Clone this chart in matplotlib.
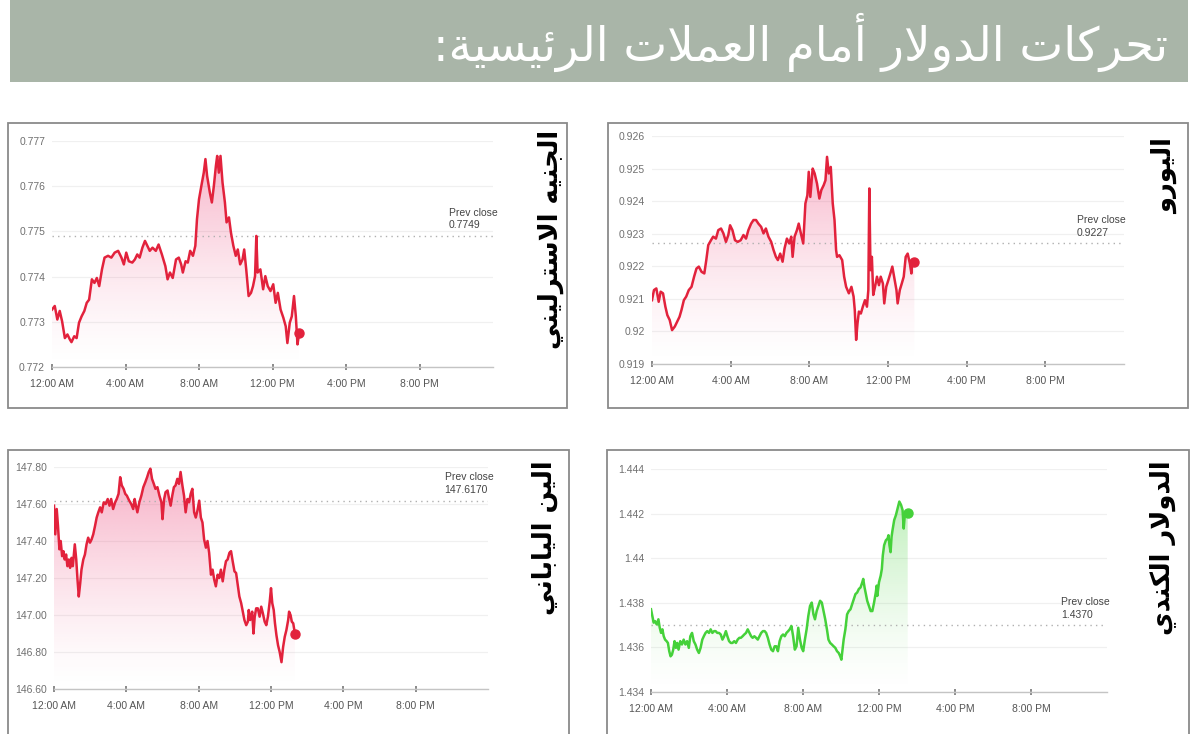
import matplotlib
matplotlib.use('Agg')
import matplotlib.pyplot as plt
import matplotlib.colors as mcolors
import numpy as np
from matplotlib.patches import Rectangle, Polygon

# ---- data (hours after midnight, exchange rate) ----
title_text = 'تحركات الدولار أمام العملات الرئيسية:'
time_ticks = [0, 4, 8, 12, 16, 20]
time_labels = ['12:00 AM', '4:00 AM', '8:00 AM', '12:00 PM', '4:00 PM', '8:00 PM']

gbp_name = 'الجنيه الاسترليني'
gbp_prev = 0.7749
gbp_prev_label = '0.7749'
gbp_ticks = [0.772, 0.773, 0.774, 0.775, 0.776, 0.777]
gbp_tick_labels = ['0.772', '0.773', '0.774', '0.775', '0.776', '0.777']
gbp_hours = [0.00, 0.15, 0.29, 0.42, 0.55, 0.70, 0.84, 0.97, 1.06, 1.21,
             1.34, 1.47, 1.61, 1.76, 1.89, 2.02, 2.17, 2.31, 2.44, 2.57,
             2.72, 2.86, 3.05, 3.23, 3.41, 3.60, 3.78, 3.91, 4.04, 4.18,
             4.37, 4.51, 4.64, 4.77, 4.92, 5.06, 5.19, 5.32, 5.47, 5.65,
             5.80, 5.98, 6.17, 6.29, 6.42, 6.57, 6.75, 6.90, 7.03, 7.12,
             7.27, 7.39, 7.52, 7.67, 7.80, 7.89, 8.00, 8.13, 8.26, 8.35,
             8.44, 8.59, 8.70, 8.81, 8.92, 8.99, 9.08, 9.17, 9.28, 9.41,
             9.50, 9.63, 9.74, 9.87, 10.00, 10.11, 10.24, 10.37, 10.46, 10.57,
             10.70, 10.83, 10.94, 11.05, 11.12, 11.19, 11.34, 11.49, 11.61, 11.74,
             11.89, 12.04, 12.17, 12.29, 12.44, 12.59, 12.72, 12.81, 12.94, 13.05,
             13.17, 13.27, 13.36, 13.45]
gbp_rate = [0.77327, 0.77335, 0.77305, 0.77324, 0.77301, 0.77264, 0.77272, 0.77261, 0.77255, 0.77268,
            0.77264, 0.77298, 0.77312, 0.77324, 0.77342, 0.77349, 0.77394, 0.77386, 0.77397, 0.77379,
            0.77416, 0.77442, 0.77446, 0.77442, 0.77453, 0.77457, 0.77442, 0.77427, 0.77453, 0.77434,
            0.77431, 0.77438, 0.77449, 0.77442, 0.77464, 0.77479, 0.77468, 0.77457, 0.77464, 0.77457,
            0.77471, 0.77449, 0.77423, 0.77394, 0.77409, 0.77397, 0.77438, 0.77442, 0.77427, 0.77409,
            0.77434, 0.77431, 0.77457, 0.77446, 0.77468, 0.77527, 0.77571, 0.77601, 0.77630, 0.77660,
            0.77623, 0.77586, 0.77564, 0.77601, 0.77645, 0.77667, 0.77630, 0.77667, 0.77608, 0.77564,
            0.77520, 0.77531, 0.77497, 0.77468, 0.77446, 0.77460, 0.77427, 0.77438, 0.77460, 0.77416,
            0.77357, 0.77364, 0.77379, 0.77401, 0.77490, 0.77409, 0.77416, 0.77372, 0.77401, 0.77379,
            0.77368, 0.77383, 0.77342, 0.77364, 0.77327, 0.77309, 0.77290, 0.77253, 0.77298, 0.77312,
            0.77357, 0.77312, 0.77250, 0.77275]

eur_name = 'اليورو'
eur_prev = 0.9227
eur_prev_label = '0.9227'
eur_ticks = [0.919, 0.920, 0.921, 0.922, 0.923, 0.924, 0.925, 0.926]
eur_tick_labels = ['0.919', '0.92', '0.921', '0.922', '0.923', '0.924', '0.925', '0.926']
eur_hours = [0.00, 0.10, 0.22, 0.34, 0.44, 0.56, 0.68, 0.78, 0.90, 1.02,
             1.16, 1.28, 1.40, 1.50, 1.62, 1.74, 1.87, 2.01, 2.14, 2.26,
             2.38, 2.52, 2.66, 2.76, 2.86, 3.00, 3.11, 3.25, 3.37, 3.51,
             3.63, 3.76, 3.88, 3.97, 4.09, 4.22, 4.36, 4.51, 4.65, 4.78,
             4.90, 5.04, 5.16, 5.29, 5.41, 5.55, 5.67, 5.79, 5.92, 6.06,
             6.18, 6.30, 6.40, 6.52, 6.64, 6.74, 6.86, 6.98, 7.08, 7.15,
             7.25, 7.37, 7.46, 7.57, 7.69, 7.80, 7.90, 7.97, 8.05, 8.17,
             8.27, 8.39, 8.51, 8.61, 8.73, 8.82, 8.90, 8.99, 9.09, 9.19,
             9.28, 9.36, 9.41, 9.53, 9.67, 9.77, 9.87, 10.01, 10.14, 10.25,
             10.31, 10.38, 10.45, 10.52, 10.62, 10.72, 10.83, 10.93, 11.00, 11.05,
             11.11, 11.18, 11.25, 11.34, 11.44, 11.54, 11.63, 11.74, 11.81, 11.91,
             12.02, 12.12, 12.22, 12.31, 12.43, 12.49, 12.60, 12.70, 12.80, 12.90,
             13.00, 13.11, 13.19, 13.24, 13.34]
eur_rate = [0.92096, 0.92127, 0.92132, 0.92091, 0.92122, 0.92117, 0.92076, 0.92050, 0.92035, 0.92004,
            0.92015, 0.92030, 0.92045, 0.92066, 0.92096, 0.92107, 0.92127, 0.92137, 0.92168, 0.92193,
            0.92199, 0.92183, 0.92178, 0.92219, 0.92265, 0.92280, 0.92291, 0.92285, 0.92311, 0.92316,
            0.92301, 0.92275, 0.92296, 0.92326, 0.92311, 0.92280, 0.92275, 0.92280, 0.92296, 0.92285,
            0.92311, 0.92331, 0.92342, 0.92342, 0.92331, 0.92321, 0.92301, 0.92316, 0.92291, 0.92275,
            0.92250, 0.92229, 0.92219, 0.92239, 0.92214, 0.92255, 0.92285, 0.92270, 0.92291, 0.92229,
            0.92291, 0.92311, 0.92331, 0.92301, 0.92270, 0.92393, 0.92418, 0.92490, 0.92413, 0.92500,
            0.92485, 0.92454, 0.92408, 0.92434, 0.92449, 0.92464, 0.92536, 0.92485, 0.92505, 0.92393,
            0.92342, 0.92250, 0.92229, 0.92234, 0.92219, 0.92168, 0.92137, 0.92117, 0.92137, 0.92107,
            0.92066, 0.91974, 0.92025, 0.92061, 0.92055, 0.92076, 0.92096, 0.92076, 0.92127, 0.92439,
            0.92188, 0.92229, 0.92112, 0.92137, 0.92168, 0.92142, 0.92168, 0.92147, 0.92086, 0.92137,
            0.92158, 0.92178, 0.92199, 0.92168, 0.92127, 0.92086, 0.92127, 0.92147, 0.92168, 0.92229,
            0.92239, 0.92209, 0.92178, 0.92219, 0.92214]

jpy_name = 'الين الياباني'
jpy_prev = 147.617
jpy_prev_label = '147.6170'
jpy_ticks = [146.6, 146.8, 147.0, 147.2, 147.4, 147.6, 147.8]
jpy_tick_labels = ['146.60', '146.80', '147.00', '147.20', '147.40', '147.60', '147.80']
jpy_hours = [0.00, 0.07, 0.15, 0.22, 0.30, 0.37, 0.45, 0.52, 0.59, 0.67,
             0.74, 0.82, 0.89, 0.97, 1.04, 1.15, 1.23, 1.30, 1.37, 1.45,
             1.52, 1.62, 1.71, 1.80, 1.89, 1.99, 2.08, 2.17, 2.27, 2.36,
             2.45, 2.55, 2.64, 2.75, 2.86, 2.97, 3.07, 3.16, 3.27, 3.38,
             3.47, 3.57, 3.66, 3.75, 3.85, 3.94, 4.03, 4.16, 4.27, 4.38,
             4.46, 4.53, 4.61, 4.72, 4.83, 4.94, 5.05, 5.15, 5.24, 5.33,
             5.42, 5.52, 5.61, 5.72, 5.83, 5.94, 6.00, 6.09, 6.17, 6.28,
             6.35, 6.45, 6.54, 6.63, 6.72, 6.82, 6.91, 7.00, 7.10, 7.19,
             7.28, 7.38, 7.47, 7.56, 7.65, 7.75, 7.84, 7.93, 8.03, 8.12,
             8.21, 8.30, 8.40, 8.49, 8.58, 8.68, 8.77, 8.86, 8.95, 9.05,
             9.14, 9.23, 9.33, 9.42, 9.51, 9.60, 9.70, 9.79, 9.88, 9.98,
             10.07, 10.16, 10.25, 10.35, 10.44, 10.53, 10.63, 10.72, 10.77, 10.85,
             10.96, 11.03, 11.10, 11.18, 11.27, 11.37, 11.46, 11.55, 11.65, 11.74,
             11.83, 11.93, 12.00, 12.07, 12.15, 12.22, 12.30, 12.39, 12.48, 12.58,
             12.67, 12.76, 12.85, 12.95, 13.00, 13.08, 13.15, 13.23, 13.32]
jpy_rate = [147.591, 147.436, 147.573, 147.482, 147.355, 147.400, 147.318, 147.345, 147.300, 147.327,
            147.264, 147.300, 147.255, 147.309, 147.264, 147.382, 147.300, 147.191, 147.100, 147.173,
            147.245, 147.300, 147.327, 147.382, 147.418, 147.391, 147.409, 147.436, 147.482, 147.527,
            147.555, 147.582, 147.555, 147.609, 147.600, 147.627, 147.591, 147.627, 147.573, 147.609,
            147.627, 147.655, 147.745, 147.700, 147.682, 147.655, 147.645, 147.618, 147.600, 147.573,
            147.627, 147.591, 147.555, 147.609, 147.645, 147.691, 147.718, 147.745, 147.773, 147.791,
            147.736, 147.709, 147.682, 147.691, 147.645, 147.609, 147.518, 147.627, 147.664, 147.673,
            147.636, 147.591, 147.645, 147.691, 147.700, 147.736, 147.709, 147.773, 147.700, 147.645,
            147.555, 147.627, 147.609, 147.655, 147.682, 147.555, 147.527, 147.564, 147.618, 147.527,
            147.500, 147.409, 147.364, 147.400, 147.336, 147.218, 147.245, 147.191, 147.155, 147.218,
            147.200, 147.245, 147.182, 147.245, 147.291, 147.300, 147.336, 147.345, 147.291, 147.236,
            147.227, 147.164, 147.100, 147.064, 147.018, 146.973, 146.945, 146.964, 147.027, 146.973,
            147.018, 146.900, 146.991, 147.036, 147.036, 146.991, 147.045, 147.009, 146.964, 146.945,
            146.991, 147.073, 147.145, 147.064, 147.027, 146.955, 146.891, 146.836, 146.800, 146.745,
            146.827, 146.882, 146.918, 146.973, 147.018, 147.000, 146.964, 146.955, 146.900]

cad_name = 'الدولار الكندي'
cad_prev = 1.4370
cad_prev_label = '1.4370'
cad_ticks = [1.434, 1.436, 1.438, 1.440, 1.442, 1.444]
cad_tick_labels = ['1.434', '1.436', '1.438', '1.44', '1.442', '1.444']
cad_hours = [0.00, 0.07, 0.14, 0.21, 0.30, 0.39, 0.46, 0.53, 0.60, 0.67,
             0.74, 0.82, 0.89, 0.96, 1.03, 1.10, 1.17, 1.24, 1.31, 1.38,
             1.45, 1.54, 1.63, 1.72, 1.81, 1.90, 1.99, 2.07, 2.16, 2.25,
             2.34, 2.43, 2.52, 2.61, 2.70, 2.78, 2.87, 2.96, 3.05, 3.14,
             3.23, 3.32, 3.40, 3.49, 3.58, 3.67, 3.76, 3.85, 3.94, 4.02,
             4.11, 4.20, 4.29, 4.38, 4.47, 4.56, 4.65, 4.73, 4.82, 4.91,
             5.00, 5.09, 5.18, 5.27, 5.35, 5.44, 5.53, 5.62, 5.71, 5.80,
             5.89, 5.98, 6.06, 6.15, 6.24, 6.33, 6.42, 6.51, 6.60, 6.68,
             6.77, 6.86, 6.95, 7.04, 7.13, 7.22, 7.30, 7.39, 7.48, 7.57,
             7.66, 7.75, 7.84, 7.93, 8.01, 8.10, 8.19, 8.28, 8.37, 8.46,
             8.55, 8.63, 8.72, 8.81, 8.90, 8.99, 9.08, 9.17, 9.26, 9.34,
             9.43, 9.52, 9.61, 9.70, 9.79, 9.88, 9.96, 10.02, 10.07, 10.14,
             10.23, 10.32, 10.41, 10.50, 10.59, 10.67, 10.76, 10.85, 10.94, 11.03,
             11.12, 11.17, 11.24, 11.31, 11.38, 11.47, 11.56, 11.65, 11.74, 11.83,
             11.88, 11.91, 12.00, 12.09, 12.15, 12.20, 12.27, 12.36, 12.45, 12.50,
             12.55, 12.61, 12.66, 12.71, 12.80, 12.89, 12.98, 13.07, 13.16, 13.24,
             13.30, 13.35, 13.42, 13.51]
cad_rate = [1.43771, 1.43741, 1.43711, 1.43718, 1.43703, 1.43726, 1.43688, 1.43665, 1.43681, 1.43650,
            1.43635, 1.43628, 1.43620, 1.43583, 1.43560, 1.43567, 1.43590, 1.43628, 1.43598, 1.43620,
            1.43590, 1.43628, 1.43613, 1.43635, 1.43613, 1.43628, 1.43598, 1.43650, 1.43665, 1.43628,
            1.43613, 1.43590, 1.43575, 1.43598, 1.43635, 1.43650, 1.43665, 1.43673, 1.43665, 1.43681,
            1.43665, 1.43673, 1.43673, 1.43665, 1.43665, 1.43658, 1.43635, 1.43650, 1.43673, 1.43650,
            1.43628, 1.43620, 1.43620, 1.43628, 1.43620, 1.43635, 1.43643, 1.43643, 1.43650, 1.43658,
            1.43665, 1.43681, 1.43665, 1.43650, 1.43643, 1.43650, 1.43643, 1.43635, 1.43650, 1.43665,
            1.43673, 1.43673, 1.43665, 1.43643, 1.43613, 1.43590, 1.43583, 1.43605, 1.43605, 1.43583,
            1.43628, 1.43650, 1.43658, 1.43650, 1.43665, 1.43673, 1.43681, 1.43696, 1.43650, 1.43590,
            1.43605, 1.43688, 1.43635, 1.43598, 1.43583, 1.43635, 1.43681, 1.43741, 1.43786, 1.43801,
            1.43748, 1.43726, 1.43763, 1.43786, 1.43809, 1.43801, 1.43763, 1.43726, 1.43681, 1.43635,
            1.43620, 1.43613, 1.43605, 1.43598, 1.43583, 1.43575, 1.43560, 1.43545, 1.43583, 1.43635,
            1.43681, 1.43748, 1.43763, 1.43771, 1.43794, 1.43816, 1.43839, 1.43846, 1.43862, 1.43869,
            1.43892, 1.43907, 1.43869, 1.43839, 1.43809, 1.43786, 1.43763, 1.43763, 1.43801, 1.43846,
            1.43877, 1.43831, 1.43892, 1.43922, 1.43952, 1.44012, 1.44058, 1.44080, 1.44088, 1.44103,
            1.44058, 1.44027, 1.44095, 1.44125, 1.44171, 1.44193, 1.44224, 1.44254, 1.44239, 1.44216,
            1.44133, 1.44186, 1.44208, 1.44201]

# ---- minimal Arabic shaping (matplotlib has no complex text layout) ----
# isolated, final, initial, medial
FORMS = {
    'ا': ('\uFE8D', '\uFE8E', None, None),
    'أ': ('\uFE83', '\uFE84', None, None),
    'ب': ('\uFE8F', '\uFE90', '\uFE91', '\uFE92'),
    'ة': ('\uFE93', '\uFE94', None, None),
    'ت': ('\uFE95', '\uFE96', '\uFE97', '\uFE98'),
    'ج': ('\uFE9D', '\uFE9E', '\uFE9F', '\uFEA0'),
    'ح': ('\uFEA1', '\uFEA2', '\uFEA3', '\uFEA4'),
    'د': ('\uFEA9', '\uFEAA', None, None),
    'ر': ('\uFEAD', '\uFEAE', None, None),
    'س': ('\uFEB1', '\uFEB2', '\uFEB3', '\uFEB4'),
    'ع': ('\uFEC9', '\uFECA', '\uFECB', '\uFECC'),
    'ك': ('\uFED9', '\uFEDA', '\uFEDB', '\uFEDC'),
    'ل': ('\uFEDD', '\uFEDE', '\uFEDF', '\uFEE0'),
    'م': ('\uFEE1', '\uFEE2', '\uFEE3', '\uFEE4'),
    'ن': ('\uFEE5', '\uFEE6', '\uFEE7', '\uFEE8'),
    'ه': ('\uFEE9', '\uFEEA', '\uFEEB', '\uFEEC'),
    'و': ('\uFEED', '\uFEEE', None, None),
    'ي': ('\uFEF1', '\uFEF2', '\uFEF3', '\uFEF4'),
    'ئ': ('\uFE89', '\uFE8A', '\uFE8B', '\uFE8C'),
}
LAM_ALEF = {'ا': ('\uFEFB', '\uFEFC'), 'أ': ('\uFEF7', '\uFEF8')}


def shape_arabic(text):
    out = []
    i = 0
    while i < len(text):
        c = text[i]
        prev = text[i - 1] if i > 0 else None
        joins_prev = prev in FORMS and FORMS[prev][2] is not None
        if c == 'ل' and i + 1 < len(text) and text[i + 1] in LAM_ALEF:
            iso, fin = LAM_ALEF[text[i + 1]]
            out.append(fin if joins_prev else iso)
            i += 2
            continue
        if c not in FORMS:
            out.append(c)
            i += 1
            continue
        nxt = text[i + 1] if i + 1 < len(text) else None
        iso, fin, ini, med = FORMS[c]
        joins_next = ini is not None and nxt in FORMS
        if joins_prev and joins_next:
            out.append(med)
        elif joins_prev:
            out.append(fin)
        elif joins_next:
            out.append(ini)
        else:
            out.append(iso)
        i += 1
    return ''.join(reversed(out))


W, H = 1200, 734
fig = plt.figure(figsize=(W / 100, H / 100), dpi=100)
fig.patch.set_facecolor('white')

ARABIC_FONT = ['DejaVu Sans']
SMALL_FONT = ['Liberation Sans', 'DejaVu Sans']


def fx(px):
    return px / W


def fy(py):
    return 1 - py / H


# title banner
fig.patches.append(Rectangle((fx(10), fy(82)), fx(1178), 82 / H, transform=fig.transFigure,
                             facecolor='#a9b5a8', edgecolor='none', zorder=0))
fig.text(fx(1168), fy(42), shape_arabic(title_text), ha='right', va='center',
         color='white', fontsize=33.5, family=ARABIC_FONT)


def gradient_fill(ax, x, y, color, amax):
    xlo, xhi = ax.get_xlim()
    ylo, yhi = ax.get_ylim()
    rgb = mcolors.to_rgb(color)
    n = 256
    z = np.zeros((n, 1, 4))
    z[:, 0, :3] = rgb
    t = np.linspace(0, 1, n)
    z[:, 0, 3] = amax * t ** 1.4
    im = ax.imshow(z, aspect='auto', extent=[xlo, xhi, ylo, yhi], origin='lower',
                   zorder=1, interpolation='bilinear')
    verts = np.vstack([[x[0], ylo], np.column_stack([x, y]), [x[-1], ylo]])
    clip = Polygon(verts, closed=True, facecolor='none', edgecolor='none')
    ax.add_patch(clip)
    im.set_clip_path(clip)
    ax.set_xlim(xlo, xhi)
    ax.set_ylim(ylo, yhi)


def draw_panel(frame, axbox, hours, rate, prev, prev_label, ticks, tick_labels,
               color, fill_color, name, name_pos):
    # frame in pixels: x0, y0, x1, y1
    x0, y0, x1, y1 = frame
    fig.patches.append(Rectangle((fx(x0), fy(y1)), fx(x1 - x0), (y1 - y0) / H,
                                 transform=fig.transFigure, facecolor='none',
                                 edgecolor='#8a8a8a', lw=1.3, zorder=0))
    l, t, r, b = axbox
    ax = fig.add_axes([fx(l), fy(b), fx(r - l), (b - t) / H])
    ax.set_facecolor('none')
    ax.set_xlim(0, 24)
    ax.set_ylim(ticks[0], ticks[-1])

    gradient_fill(ax, hours, rate, fill_color, 0.42)
    ax.plot(hours, rate, color=color, lw=1.8, zorder=3, solid_joinstyle='round')
    ax.plot(hours[-1], rate[-1], 'o', color=color, ms=6.5, zorder=4)
    ax.axhline(prev, color='#b0b0b0', lw=1.0, ls=(0, (1, 3)), zorder=2)
    ax.annotate('Prev close\n' + prev_label, xy=(21.6, prev), xytext=(0, 4),
                textcoords='offset points', ha='left', va='bottom', fontsize=7.5,
                color='#444444', family=SMALL_FONT, linespacing=1.35)

    ax.set_yticks(ticks)
    ax.set_yticklabels(tick_labels)
    ax.set_xticks(time_ticks)
    ax.set_xticklabels(time_labels)
    ax.yaxis.grid(True, color='#f0f0f0', lw=0.9, zorder=0)
    ax.set_axisbelow(True)
    for s in ['top', 'right', 'left']:
        ax.spines[s].set_visible(False)
    ax.spines['bottom'].set_color('#c4c4c4')
    ax.spines['bottom'].set_linewidth(1.0)
    ax.tick_params(axis='y', length=0, pad=5, labelsize=7.5, labelcolor='#707070')
    ax.tick_params(axis='x', direction='inout', length=5, width=1.2, color='#777777',
                   pad=6, labelsize=7.5, labelcolor='#555555')
    for lab in ax.get_xticklabels() + ax.get_yticklabels():
        lab.set_family(SMALL_FONT)

    fig.text(fx(name_pos[0]), fy(name_pos[1]), shape_arabic(name), rotation=90,
             ha='center', va='top', fontsize=18.5, fontweight='bold', color='black',
             family=ARABIC_FONT)
    return ax


red = '#e2223c'
pink = '#ec3f75'
green = '#45d13a'

draw_panel((8, 123, 567, 408), (52, 141, 493, 367), gbp_hours, gbp_rate, gbp_prev,
           gbp_prev_label, gbp_ticks, gbp_tick_labels, red, pink, gbp_name, (551, 130))
draw_panel((608, 123, 1188, 408), (652, 136, 1124, 364), eur_hours, eur_rate, eur_prev,
           eur_prev_label, eur_ticks, eur_tick_labels, red, pink, eur_name, (1165, 138))
draw_panel((8, 450, 569, 740), (54, 467, 488, 689), jpy_hours, jpy_rate, jpy_prev,
           jpy_prev_label, jpy_ticks, jpy_tick_labels, red, pink, jpy_name, (545, 460))
draw_panel((607, 450, 1189, 740), (651, 469, 1107, 692), cad_hours, cad_rate, cad_prev,
           cad_prev_label, cad_ticks, cad_tick_labels, green, green, cad_name, (1163, 460))

fig.savefig('out.png', dpi=100, facecolor='white')
